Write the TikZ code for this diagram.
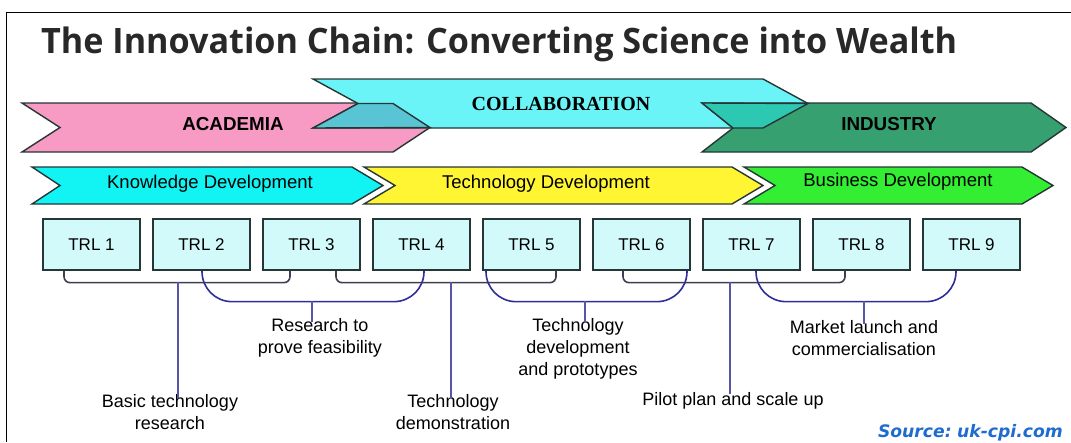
\documentclass[tikz,border=0pt]{standalone}
\usepackage{fontspec}
\setmainfont{Liberation Sans}
\newfontfamily\titlefont[Ligatures=NoCommon]{Open Sans}
\newfontfamily\serifbold{Liberation Serif}
\newfontfamily\srcfont{DejaVu Sans}
\definecolor{acpink}{HTML}{F79AC4}
\definecolor{colcyan}{HTML}{6AF4F8}
\definecolor{ovlA}{HTML}{58C4D4}
\definecolor{indgreen}{HTML}{36A070}
\definecolor{ovlB}{HTML}{2CC8B2}
\definecolor{kncyan}{HTML}{12F4F4}
\definecolor{tdyellow}{HTML}{FFF533}
\definecolor{bdgreen}{HTML}{33EE33}
\definecolor{trlfill}{HTML}{D2FAFA}
\definecolor{outl}{HTML}{263636}
\definecolor{brgray}{HTML}{3E3E50}
\definecolor{brblue}{HTML}{2E2E96}
\definecolor{stemblue}{HTML}{5656A8}
\definecolor{srcblue}{HTML}{1F6CD0}
\definecolor{titlegray}{HTML}{282828}
\begin{document}
\begin{tikzpicture}[x=1pt,y=-1pt,
  band/.style={draw=outl,line width=1.4pt,line join=miter},
  trl/.style={draw=outl,fill=trlfill,line width=1.3pt,minimum width=97pt,minimum height=51pt,inner sep=0pt,font=\fontsize{17}{20}\selectfont},
  lab/.style={align=center,inner sep=0pt,font=\fontsize{18}{22}\selectfont},
  gbr/.style={draw=brgray,line width=1.6pt,rounded corners=6pt},
  bbr/.style={draw=brblue,line width=1.6pt,rounded corners=30pt},
  stem/.style={draw=stemblue,line width=1.4pt},
  bandtext/.style={inner sep=0pt,font=\fontsize{18.5}{20}\selectfont},
  bigtext/.style={inner sep=0pt,font=\bfseries\fontsize{18.8}{20}\selectfont}]
\useasboundingbox (0,0) rectangle (1071,442);
% frame
\draw[line width=1.6pt] (6.5,442) -- (6.5,12.5) -- (1071,12.5);
% title
\node[anchor=base west,inner sep=0pt,text=titlegray] (title) at (41,53)
  {\resizebox{916pt}{\height}{\titlefont\bfseries\fontsize{35}{40}\selectfont The Innovation Chain: Converting Science into Wealth}};
% row 1 bands
\path[band,fill=acpink] (22,103) -- (393,103) -- (430,127.5) -- (393,152) -- (22,152) -- (60,127.5) -- cycle;
\path[band,fill=colcyan] (313,79) -- (763,79) -- (808,103.5) -- (763,128) -- (313,128) -- (358,103.5) -- cycle;
\path[band,fill=indgreen] (702,103) -- (1031,103) -- (1066,127.5) -- (1031,152) -- (702,152) -- (733,128) -- cycle;
\path[band,fill=ovlA] (358,103.5) -- (393,103.5) -- (430,127.5) -- (313,128) -- cycle;
\path[band,fill=ovlB] (702,103) -- (808,103.5) -- (763,128) -- (733,128) -- cycle;
\node[bigtext] (acad) at (233,124) {ACADEMIA};
\node[inner sep=0pt,font=\serifbold\bfseries\fontsize{20}{22}\selectfont] (collab) at (561,104) {COLLABORATION};
\node[bigtext] (ind) at (889,124) {INDUSTRY};
% row 2 bands
\path[band,fill=kncyan] (32,167) -- (352,167) -- (383,185.5) -- (352,204) -- (32,204) -- (60,185.5) -- cycle;
\path[band,fill=tdyellow] (364,167) -- (732,167) -- (763,185.5) -- (732,204) -- (364,204) -- (395,185.5) -- cycle;
\path[band,fill=bdgreen] (744,167) -- (1022,167) -- (1053,185.5) -- (1022,204) -- (744,204) -- (775,185.5) -- cycle;
\node[bandtext] (know) at (210,184) {Knowledge Development};
\node[bandtext] (tech) at (546,184) {Technology Development};
\node[bandtext] (bus) at (898,182) {Business Development};
% TRL boxes
\foreach \i in {1,...,9} {
  \node[trl] (t\i) at ({91.5+110*(\i-1)},244.5) {TRL \i};
}
% labels
\node[lab] (l1) at (170,412) {Basic technology\\research};
\node[lab] (l2) at (320,338) {Research to\\prove feasibility};
\node[lab] (l3) at (453,412) {Technology\\demonstration};
\node[lab] (l4) at (578,349) {Technology\\development\\and prototypes};
\node[lab] (l5) at (733,401) {Pilot plan and scale up};
\node[lab] (l6) at (864,338) {Market launch and\\commercialisation};
% gray brackets
\draw[gbr] ([xshift=-27.5pt]t1.south) -- ++(0,12) -| ([xshift=-21.5pt]t3.south);
\draw[gbr] ([xshift=24.5pt]t3.south) -- ++(0,12) -| ([xshift=24.5pt]t5.south);
\draw[gbr] ([xshift=-18.5pt]t6.south) -- ++(0,12) -| ([xshift=-16.5pt]t8.south);
% blue brackets
\draw[bbr] ([xshift=0.5pt]t2.south) -- ++(0,31) -| ([xshift=2.5pt]t4.south);
\draw[bbr] ([xshift=-45.5pt]t5.south) -- ++(0,31) -| ([xshift=45.5pt]t6.south);
\draw[bbr] ([xshift=4.5pt]t7.south) -- ++(0,31) -| ([xshift=-15.5pt]t9.south);
% stems
\coordinate (s1) at (178,282);
\coordinate (s2) at (312,301);
\coordinate (s3) at (451,282);
\coordinate (s4) at (585,301);
\coordinate (s5) at (730,282);
\coordinate (s6) at (864,301);
\draw[stem] (s1) -- ([yshift=-4pt]s1 |- l1.north);
\draw[stem] (s2) -- ([yshift=-4pt]s2 |- l2.north);
\draw[stem] (s3) -- ([yshift=-4pt]s3 |- l3.north);
\draw[stem] (s4) -- ([yshift=-4pt]s4 |- l4.north);
\draw[stem] (s5) -- ([yshift=-2pt]s5 |- l5.north);
\draw[stem] (s6) -- ([yshift=-4pt]s6 |- l6.north);
% source
\node[anchor=base east,inner sep=0pt,text=srcblue,font=\srcfont\bfseries\itshape\fontsize{17.2}{20}\selectfont] (src) at (1063,437) {Source:\hspace{-0.15em} uk-cpi.com};
\end{tikzpicture}
\end{document}
